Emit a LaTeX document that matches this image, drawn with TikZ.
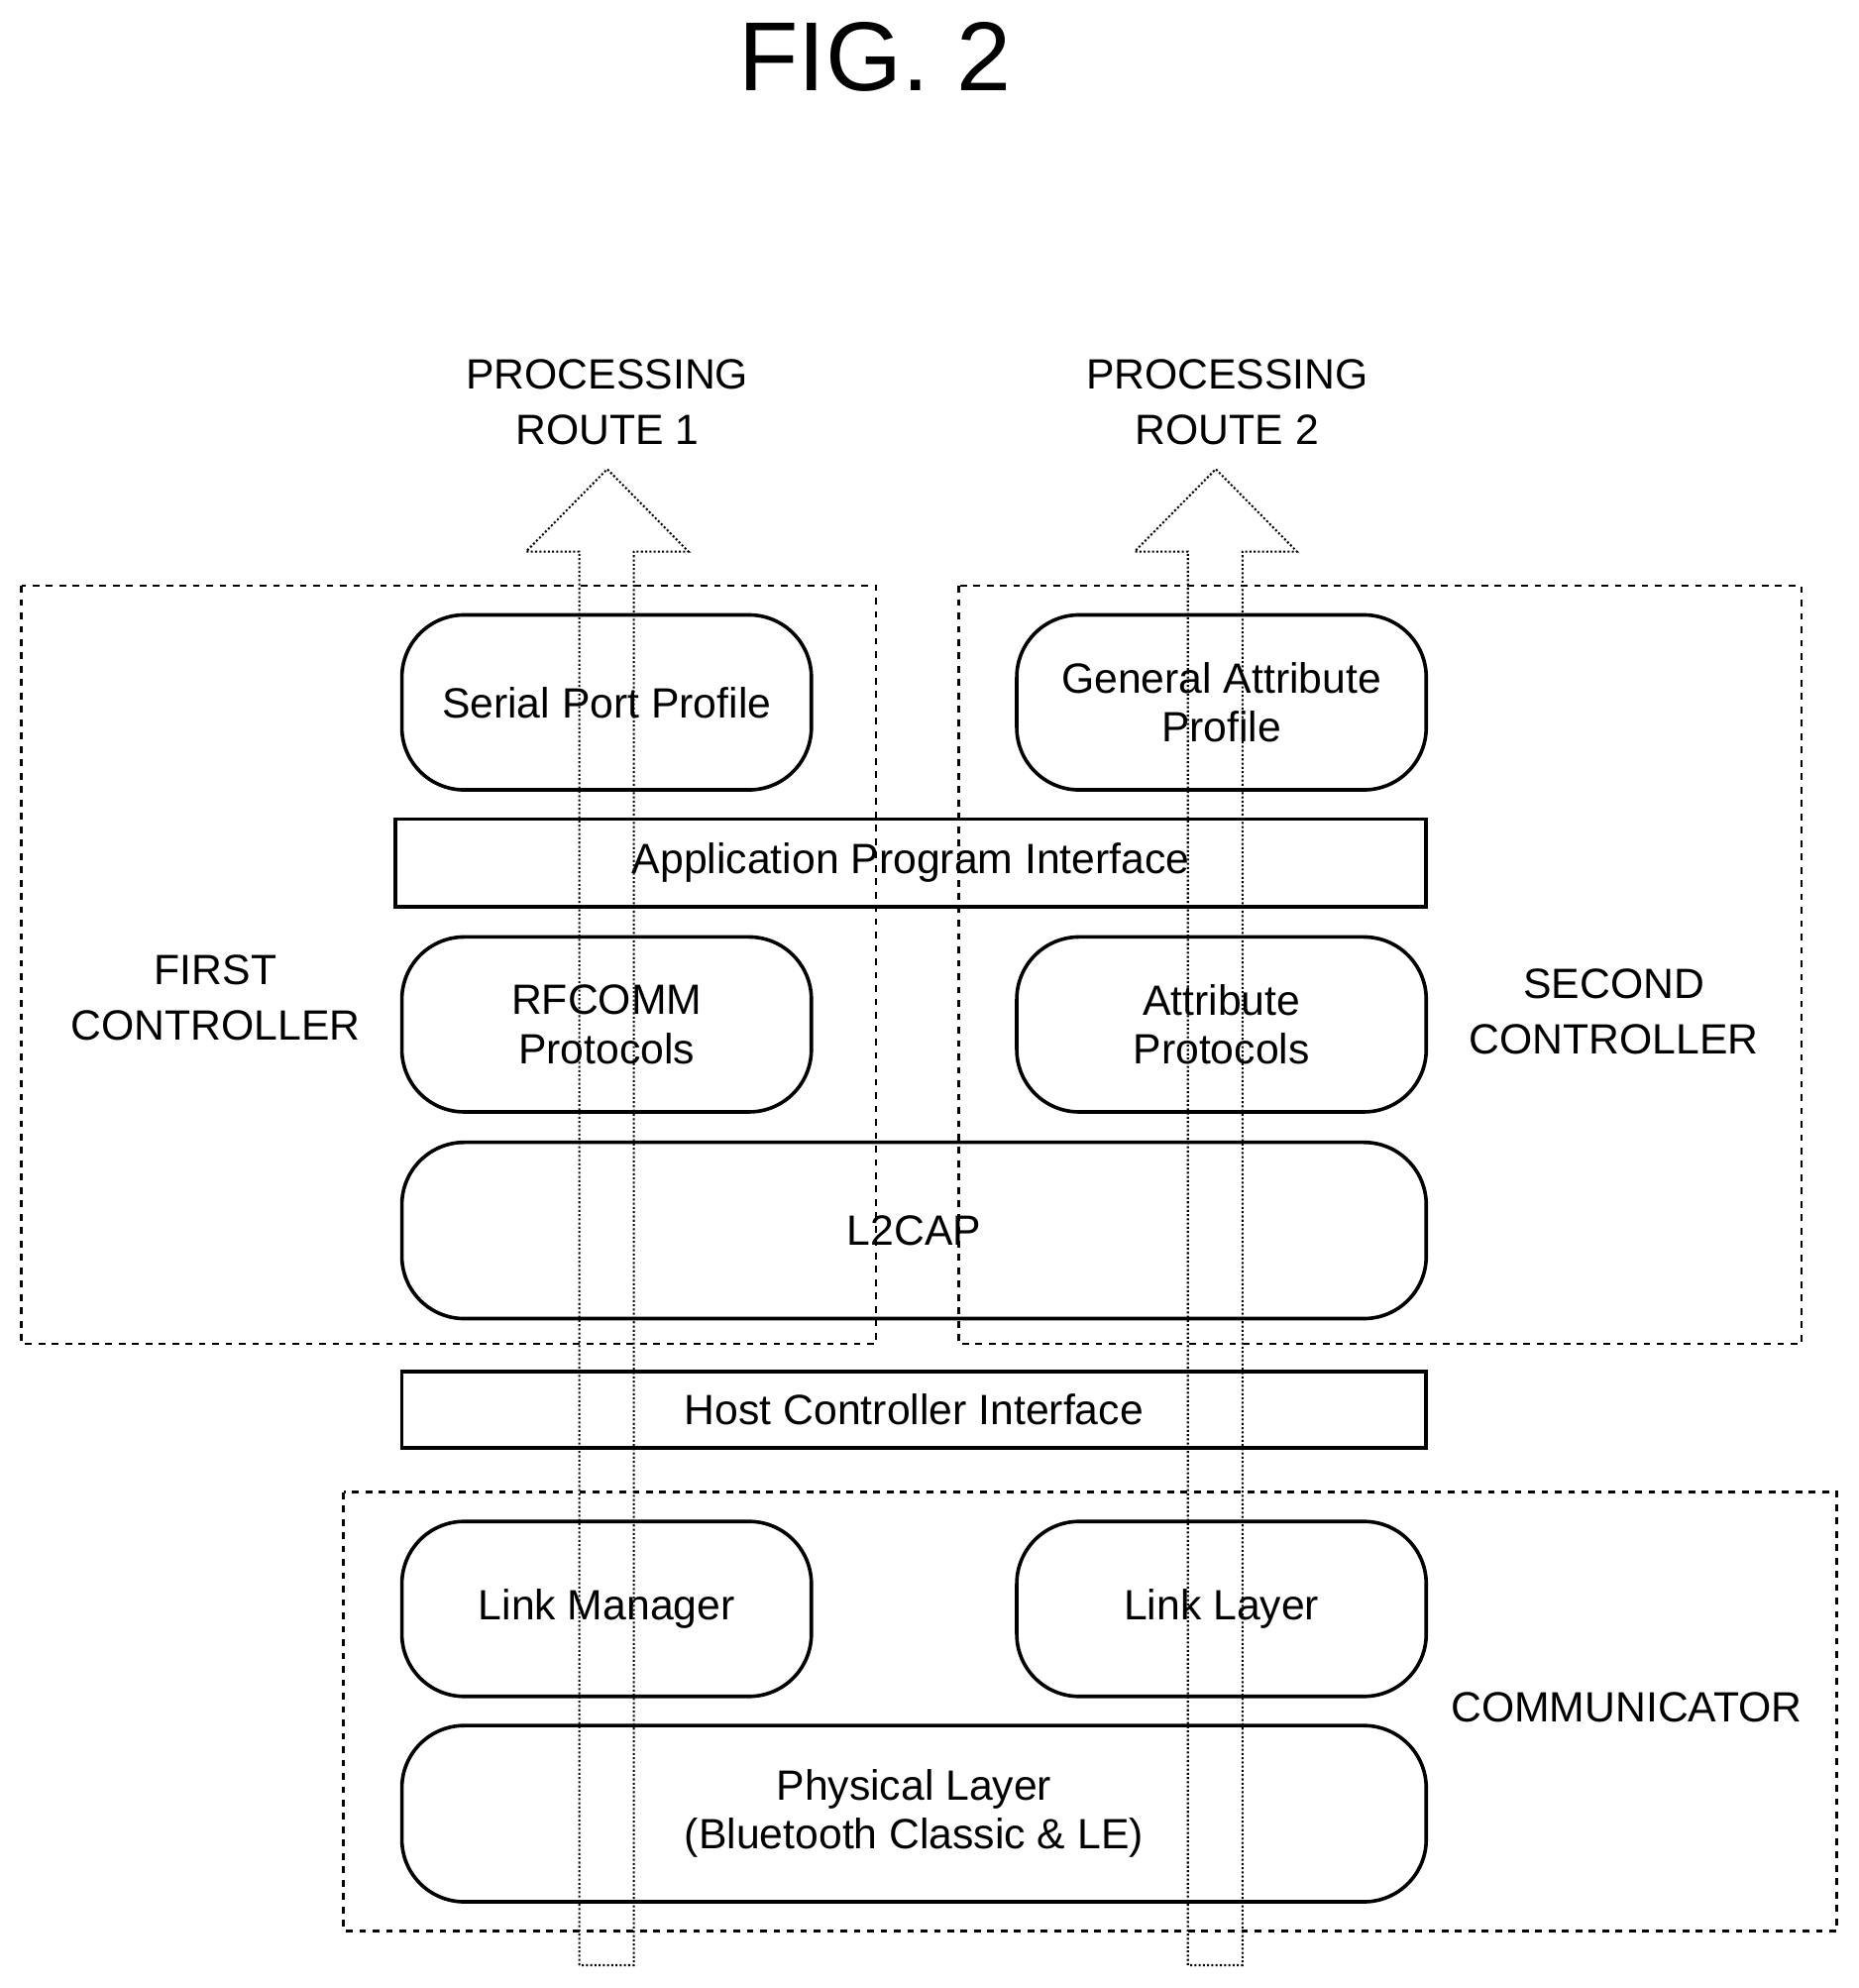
\documentclass[tikz,border=0pt]{standalone}
\usepackage{fontspec}
\setmainfont{Liberation Sans}
\usetikzlibrary{positioning}

\tikzset{
  layer/.style={draw,line width=1.6pt,rounded corners=28pt,align=center,font=\fontsize{19}{22}\selectfont},
  iface/.style={draw,line width=1.6pt,align=center,font=\fontsize{19}{22}\selectfont},
  group/.style={draw,dashed,line width=1.2pt},
  lbl/.style={align=center,font=\fontsize{19}{25}\selectfont},
  route/.style={draw,densely dotted,line width=0.9pt}
}

\begin{document}
\begin{tikzpicture}[x=0.02cm,y=-0.02cm]
\useasboundingbox (0,0) rectangle (1466,1568);

\node[font=\fontsize{44}{50}\selectfont] (fig) at (690,45) {FIG. 2};

% controller and communicator areas
\draw[group] (17,462) rectangle (691,1060);
\draw[group] (756,462) rectangle (1421,1060);
\draw[group] (271,1177) rectangle (1449,1523);

\node[lbl] (first) at (170,787) {FIRST\\CONTROLLER};
\node[lbl] (second) at (1273,798) {SECOND\\CONTROLLER};
\node[lbl] (comm) at (1283,1347) {COMMUNICATOR};

% stack
\node[layer,minimum width=323*0.02cm,minimum height=138*0.02cm] (spp) at (478.5,554) {Serial Port Profile};
\node[layer,minimum width=323*0.02cm,minimum height=138*0.02cm] (gap) at (963.5,554) {General Attribute\\Profile};
\node[iface,minimum width=813*0.02cm,minimum height=69*0.02cm] (api) at (718.5,680.5) {Application Program Interface};
\node[layer,minimum width=323*0.02cm,minimum height=138*0.02cm] (rfc) at (478.5,808) {RFCOMM\\Protocols};
\node[layer,minimum width=323*0.02cm,minimum height=138*0.02cm] (att) at (963.5,808) {Attribute\\Protocols};
\node[layer,minimum width=808*0.02cm,minimum height=139*0.02cm] (l2) at (721,970.5) {L2CAP};
\node[iface,minimum width=808*0.02cm,minimum height=60*0.02cm] (hci) at (721,1112) {Host Controller Interface};
\node[layer,minimum width=323*0.02cm,minimum height=138*0.02cm] (lm) at (478.5,1269) {Link Manager};
\node[layer,minimum width=323*0.02cm,minimum height=138*0.02cm] (ll) at (963.5,1269) {Link Layer};
\node[layer,minimum width=808*0.02cm,minimum height=139*0.02cm] (phy) at (721,1430.5) {Physical Layer\\(Bluetooth Classic \& LE)};

% processing routes
\node[lbl] (r1) at (479,317) {PROCESSING\\ROUTE 1};
\node[lbl] (r2) at (968,317) {PROCESSING\\ROUTE 2};
\draw[route] (457,1550) -- (457,435) -- (415,435) -- (479,370) -- (543,435) -- (500,435) -- (500,1550) -- cycle;
\draw[route] (937,1550) -- (937,435) -- (895,435) -- (959,370) -- (1023,435) -- (980,435) -- (980,1550) -- cycle;
\end{tikzpicture}
\end{document}
